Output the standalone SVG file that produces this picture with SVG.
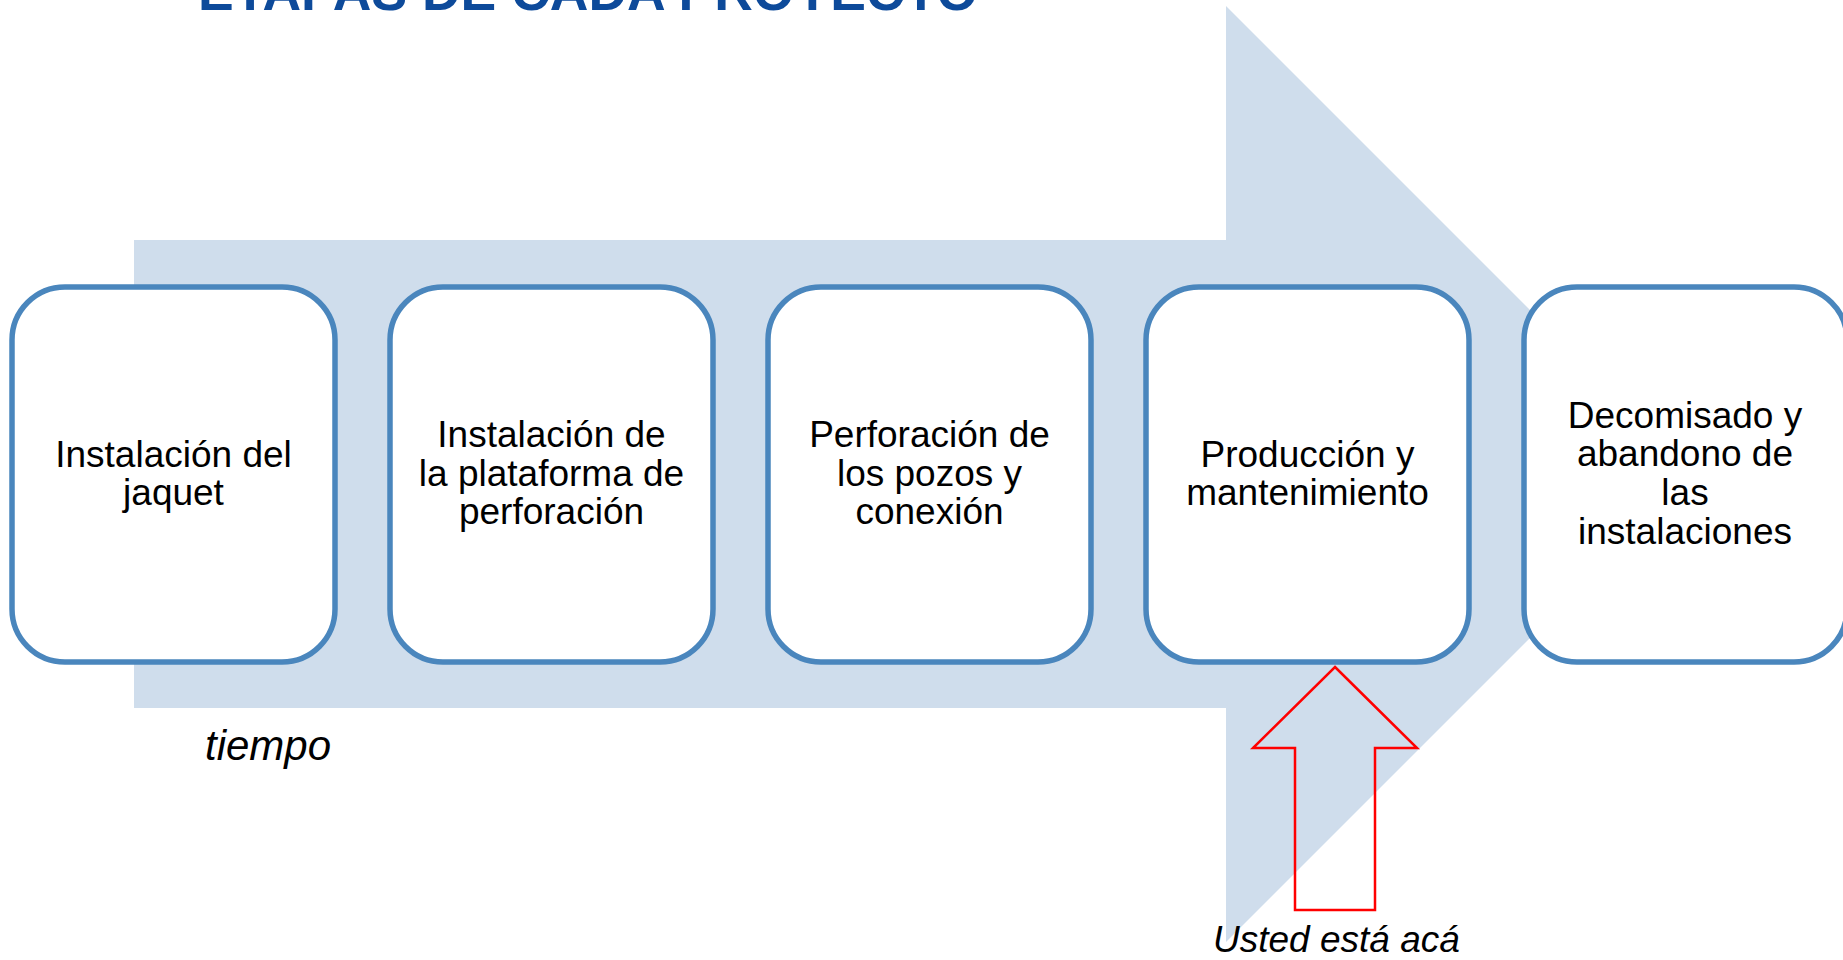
<svg xmlns="http://www.w3.org/2000/svg" width="1843" height="960" viewBox="0 0 1843 960">
  <style>
    .box { fill: #FFFFFF; stroke: #4A86BD; stroke-width: 5.5; }
    .lbl { font-family: "Liberation Sans", Arial, sans-serif; font-size: 37px; fill: #000000; text-anchor: middle; }
    .it { font-family: "Liberation Sans", Arial, sans-serif; font-style: italic; fill: #000000; }
    .title { font-family: "Liberation Sans", Arial, sans-serif; font-weight: bold; font-size: 53.5px; fill: #0D4A9A; }
  </style>
  <rect x="0" y="0" width="1843" height="960" fill="#FFFFFF"/>
  <text class="title" x="198" y="10">ETAPAS DE CADA PROYECTO</text>
  <g id="connectors">
    <polygon id="timeline-arrow" points="134,240 1226,240 1226,6 1694,474 1226,942 1226,708 134,708" fill="#CFDDEC"/>
  </g>
  <g id="node1">
    <rect class="box" x="12" y="287" width="323" height="375" rx="53" ry="53"/>
    <text class="lbl" x="173.5" y="467">Instalación del</text>
    <text class="lbl" x="173.5" y="505">jaquet</text>
  </g>
  <g id="node2">
    <rect class="box" x="390" y="287" width="323" height="375" rx="53" ry="53"/>
    <text class="lbl" x="551.5" y="447">Instalación de</text>
    <text class="lbl" x="551.5" y="485.5">la plataforma de</text>
    <text class="lbl" x="551.5" y="524">perforación</text>
  </g>
  <g id="node3">
    <rect class="box" x="768" y="287" width="323" height="375" rx="53" ry="53"/>
    <text class="lbl" x="929.5" y="447">Perforación de</text>
    <text class="lbl" x="929.5" y="485.5">los pozos y</text>
    <text class="lbl" x="929.5" y="524">conexión</text>
  </g>
  <g id="node4">
    <rect class="box" x="1146" y="287" width="323" height="375" rx="53" ry="53"/>
    <text class="lbl" x="1307.5" y="467">Producción y</text>
    <text class="lbl" x="1307.5" y="505">mantenimiento</text>
  </g>
  <g id="node5">
    <rect class="box" x="1524" y="287" width="323" height="375" rx="53" ry="53"/>
    <text class="lbl" x="1685" y="427.5">Decomisado y</text>
    <text class="lbl" x="1685" y="466">abandono de</text>
    <text class="lbl" x="1685" y="505">las</text>
    <text class="lbl" x="1685" y="543.5">instalaciones</text>
  </g>
  <g id="tiempo">
    <text class="it" x="205" y="760" font-size="42">tiempo</text>
  </g>
  <g id="here-marker">
    <polygon points="1335,667 1417,748 1375,748 1375,910 1295,910 1295,748 1253,748" fill="none" stroke="#FF0000" stroke-width="2.5"/>
    <text class="it" x="1213" y="952" font-size="37">Usted está acá</text>
  </g>
</svg>
